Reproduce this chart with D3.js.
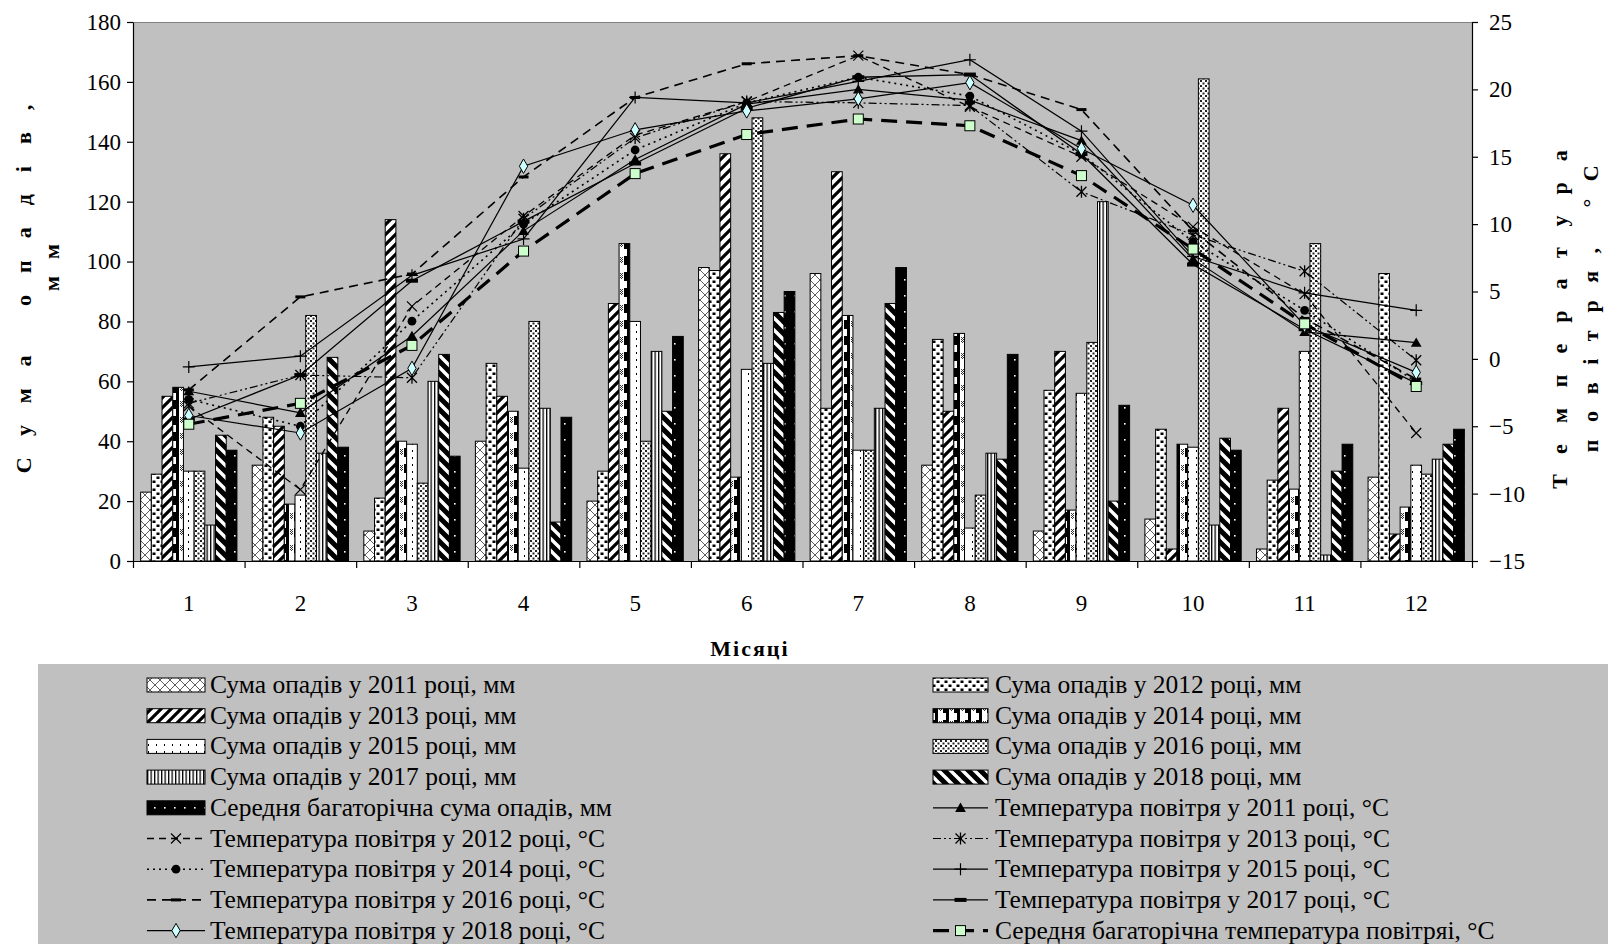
<!DOCTYPE html>
<html>
<head>
<meta charset="utf-8">
<script src="https://cdn.jsdelivr.net/npm/d3@7"></script>
<style>
  body { margin: 0; background: #fff; }
  text { font-family: "Liberation Serif", "Times New Roman", serif; fill: #000; }
</style>
</head>
<body>
<svg id="chart" width="1608" height="944"></svg>
<script>
// ---- data ----
const months = ["1","2","3","4","5","6","7","8","9","10","11","12"];

// monthly precipitation, mm
const precip2011 = [23, 32, 10, 40, 20, 98, 96, 32, 10, 14, 4, 28];
const precip2012 = [29, 48, 21, 66, 30, 97, 51, 74, 57, 44, 27, 96];
const precip2013 = [55, 45, 114, 55, 86, 136, 130, 50, 70, 4, 51, 9];
const precip2014 = [58, 19, 40, 50, 106, 28, 82, 76, 17, 39, 24, 18];
const precip2015 = [30, 22, 39, 31, 80, 64, 37, 11, 56, 38, 70, 32];
const precip2016 = [30, 82, 26, 80, 40, 148, 37, 22, 73, 161, 106, 29];
const precip2017 = [12, 36, 60, 51, 70, 66, 51, 36, 120, 12, 2, 34];
const precip2018 = [42, 68, 69, 13, 50, 83, 86, 34, 20, 41, 30, 39];
const precipNorm = [37, 38, 35, 48, 75, 90, 98, 69, 52, 37, 39, 44];

// monthly mean air temperature, °C
const temp2011 = [-2.4, -4.0, 1.7, 9.5, 14.8, 18.9, 20.0, 19.2, 16.2, 7.4, 2.0, 1.2];
const temp2012 = [-3.5, -9.7, 3.9, 10.6, 16.6, 19.1, 22.5, 18.7, 15.0, 9.8, 4.8, -5.5];
const temp2013 = [-3.3, -1.2, -1.4, 10.4, 16.4, 19.1, 19.0, 18.8, 12.4, 9.2, 6.5, -0.1];
const temp2014 = [-3.0, -5.0, 2.8, 10.0, 15.5, 19.0, 20.9, 19.5, 15.2, 8.7, 3.6, -1.7];
const temp2015 = [-0.6, 0.2, 6.2, 8.9, 19.4, 19.0, 20.6, 22.2, 16.9, 7.6, 4.9, 3.6];
const temp2016 = [-2.3, 4.6, 6.3, 13.5, 19.4, 21.9, 22.5, 21.1, 18.5, 9.5, 3.0, -1.5];
const temp2017 = [-4.5, -1.2, 5.8, 10.2, 14.5, 18.6, 20.9, 21.1, 15.2, 7.0, 2.2, -1.8];
const temp2018 = [-4.2, -5.5, -0.7, 14.3, 17.0, 18.4, 19.3, 20.5, 15.6, 11.4, 2.5, -1.0];
const tempNorm = [-4.85, -3.3, 1.0, 8.0, 13.75, 16.65, 17.8, 17.3, 13.6, 8.15, 2.6, -2.05];

const precipTicks = [0, 20, 40, 60, 80, 100, 120, 140, 160, 180];
const tempTicks = [-15, -10, -5, 0, 5, 10, 15, 20, 25];

const barSeries = [
  { key: "b2011", label: "Сума опадів у 2011 році, мм", values: precip2011, fill: "p2011" },
  { key: "b2012", label: "Сума опадів у 2012 році, мм", values: precip2012, fill: "p2012" },
  { key: "b2013", label: "Сума опадів у 2013 році, мм", values: precip2013, fill: "p2013" },
  { key: "b2014", label: "Сума опадів у 2014 році, мм", values: precip2014, fill: "p2014" },
  { key: "b2015", label: "Сума опадів у 2015 році, мм", values: precip2015, fill: "p2015" },
  { key: "b2016", label: "Сума опадів у 2016 році, мм", values: precip2016, fill: "p2016" },
  { key: "b2017", label: "Сума опадів у 2017 році, мм", values: precip2017, fill: "p2017" },
  { key: "b2018", label: "Сума опадів у 2018 році, мм", values: precip2018, fill: "p2018" },
  { key: "bNorm", label: "Середня багаторічна сума опадів, мм", values: precipNorm, fill: "pNorm" }
];

const lineSeries = [
  { key: "t2011", label: "Температура повітря у 2011 році, °C", values: temp2011, dash: null, width: 1.2, marker: "triangle" },
  { key: "t2012", label: "Температура повітря у 2012 році, °C", values: temp2012, dash: "7,5", width: 1.3, marker: "x" },
  { key: "t2013", label: "Температура повітря у 2013 році, °C", values: temp2013, dash: "8,3,2,3,2,3", width: 1.2, marker: "star" },
  { key: "t2014", label: "Температура повітря у 2014 році, °C", values: temp2014, dash: "2,4", width: 1.6, marker: "circle" },
  { key: "t2015", label: "Температура повітря у 2015 році, °C", values: temp2015, dash: null, width: 1.2, marker: "plus" },
  { key: "t2016", label: "Температура повітря у 2016 році, °C", values: temp2016, dash: "9,6", width: 1.6, marker: "dash" },
  { key: "t2017", label: "Температура повітря у 2017 році, °C", values: temp2017, dash: null, width: 1.3, marker: "bar" },
  { key: "t2018", label: "Температура повітря у 2018 році, °C", values: temp2018, dash: null, width: 1.2, marker: "diamond" },
  { key: "tNorm", label: "Середня багаторічна температура повітряі, °C", values: tempNorm, dash: "16,9", width: 3.2, marker: "square" }
];

// ---- layout ----
const W = 1608, H = 944;
const plot = { left: 133, right: 1472, top: 22, bottom: 561 };
const svg = d3.select("#chart");

svg.append("rect").attr("width", W).attr("height", H).attr("fill", "#fff");
svg.append("rect").attr("x", 38).attr("y", 664).attr("width", W - 38).attr("height", H - 664).attr("fill", "#c0c0c0");
svg.append("rect").attr("x", plot.left).attr("y", plot.top)
  .attr("width", plot.right - plot.left).attr("height", plot.bottom - plot.top)
  .attr("fill", "#c0c0c0");
svg.append("line").attr("x1", plot.left).attr("x2", plot.right).attr("y1", plot.top + 0.5).attr("y2", plot.top + 0.5)
  .attr("stroke", "#808080").attr("stroke-width", 1);

// ---- fill patterns ----
const defs = svg.append("defs");
function pattern(id, w, h, bg, build) {
  const p = defs.append("pattern").attr("id", id).attr("patternUnits", "userSpaceOnUse")
    .attr("width", w).attr("height", h);
  p.append("rect").attr("width", w).attr("height", h).attr("fill", bg);
  build(p);
}
pattern("p2011", 10, 10, "#fff", p => {
  p.append("path").attr("d", "M0,0L10,10M10,0L0,10M-1,9L1,11M9,-1L11,1").attr("stroke", "#333").attr("stroke-width", 0.8);
});
pattern("p2012", 8, 8, "#fff", p => {
  p.append("rect").attr("x", 0.5).attr("y", 0.5).attr("width", 3).attr("height", 2.5).attr("fill", "#000");
  p.append("rect").attr("x", 4.5).attr("y", 4.5).attr("width", 3).attr("height", 2.5).attr("fill", "#000");
});
pattern("p2013", 10, 10, "#fff", p => {
  p.append("path").attr("d", "M-2,2L2,-2M0,10L10,0M8,12L12,8").attr("stroke", "#000").attr("stroke-width", 3.2);
});
pattern("p2014", 11, 16, "#fff", p => {
  p.append("rect").attr("x", 0).attr("y", 0).attr("width", 3).attr("height", 16).attr("fill", "#000");
  p.append("rect").attr("x", 8).attr("y", 0).attr("width", 3).attr("height", 9).attr("fill", "#000");
  [[4,1],[6,1],[5,2],[4,3],[6,3],[5,4],[4,5],[6,5],[5,6]].forEach(([x, y]) =>
    p.append("rect").attr("x", x).attr("y", y).attr("width", 1).attr("height", 1).attr("fill", "#333"));
});
pattern("p2015", 8, 7, "#fff", p => {
  p.append("rect").attr("x", 4).attr("y", 2).attr("width", 1).attr("height", 2).attr("fill", "#000");
});
pattern("p2016", 5, 5, "#fff", p => {
  p.append("rect").attr("x", 0).attr("y", 0).attr("width", 2).attr("height", 2).attr("fill", "#222");
  p.append("rect").attr("x", 2.5).attr("y", 2.5).attr("width", 2).attr("height", 2).attr("fill", "#222");
});
pattern("p2017", 3.5, 4, "#fff", p => {
  p.append("rect").attr("x", 0).attr("y", 0).attr("width", 1.3).attr("height", 4).attr("fill", "#000");
});
pattern("p2018", 12, 12, "#000", p => {
  p.append("path").attr("d", "M-2,10L2,14M0,0L12,12M10,-2L14,2").attr("stroke", "#fff").attr("stroke-width", 3.4);
});
pattern("pNorm", 10, 16, "#000", p => {
  p.append("rect").attr("x", 4).attr("y", 7).attr("width", 1.6).attr("height", 1.6).attr("fill", "#fff");
});

// ---- scales ----
const x0 = d3.scaleBand().domain(months).range([plot.left, plot.right]).padding(0);
const gap = x0.bandwidth() * 0.137;
const x1 = d3.scaleBand().domain(barSeries.map(s => s.key)).range([gap / 2, x0.bandwidth() - gap / 2]).padding(0);
const yL = d3.scaleLinear().domain([0, 180]).range([plot.bottom, plot.top]);
const yR = d3.scaleLinear().domain([-15, 25]).range([plot.bottom, plot.top]);
const xEdge = d3.scaleLinear().domain([0, 12]).range([plot.left, plot.right]);

// ---- bars ----
const barG = svg.append("g");
barSeries.forEach(s => {
  barG.selectAll(null).data(s.values).join("rect")
    .attr("x", (d, i) => x0(months[i]) + x1(s.key))
    .attr("y", d => yL(d))
    .attr("width", x1.bandwidth())
    .attr("height", d => yL(0) - yL(d))
    .attr("fill", `url(#${s.fill})`)
    .attr("stroke", "#000").attr("stroke-width", 1);
});

// ---- markers ----
function drawMarker(g, type, cx, cy) {
  switch (type) {
    case "triangle":
      g.append("path").attr("d", d3.symbol(d3.symbolTriangle, 50)()).attr("transform", `translate(${cx},${cy + 1})`).attr("fill", "#000");
      break;
    case "x":
      g.append("path").attr("d", `M${cx-5},${cy-5}L${cx+5},${cy+5}M${cx+5},${cy-5}L${cx-5},${cy+5}`).attr("stroke", "#000").attr("stroke-width", 1.2);
      break;
    case "star":
      g.append("path").attr("d", `M${cx-5},${cy-5}L${cx+5},${cy+5}M${cx+5},${cy-5}L${cx-5},${cy+5}M${cx},${cy-6}L${cx},${cy+6}`).attr("stroke", "#000").attr("stroke-width", 1.3);
      break;
    case "circle":
      g.append("circle").attr("cx", cx).attr("cy", cy).attr("r", 4.4).attr("fill", "#000");
      break;
    case "plus":
      g.append("path").attr("d", `M${cx-6},${cy}L${cx+6},${cy}M${cx},${cy-6}L${cx},${cy+6}`).attr("stroke", "#000").attr("stroke-width", 1.2);
      break;
    case "dash":
      g.append("rect").attr("x", cx - 5).attr("y", cy - 1.5).attr("width", 10).attr("height", 3).attr("fill", "#000");
      break;
    case "bar":
      g.append("rect").attr("x", cx - 6).attr("y", cy - 2).attr("width", 12).attr("height", 4).attr("fill", "#000");
      break;
    case "diamond":
      g.append("path").attr("d", d3.symbol(d3.symbolDiamond, 60)()).attr("transform", `translate(${cx},${cy})`)
        .attr("fill", "#ccffff").attr("stroke", "#000").attr("stroke-width", 1);
      break;
    case "square":
      g.append("rect").attr("x", cx - 5).attr("y", cy - 5).attr("width", 10).attr("height", 10)
        .attr("fill", "#ccffcc").attr("stroke", "#000").attr("stroke-width", 1);
      break;
  }
}

// ---- temperature lines ----
const xc = m => x0(m) + x0.bandwidth() / 2;
const line = d3.line().x((d, i) => xc(months[i])).y(d => yR(d));
const lineG = svg.append("g");
lineSeries.forEach(s => {
  lineG.append("path").datum(s.values).attr("d", line)
    .attr("fill", "none").attr("stroke", "#000").attr("stroke-width", s.width)
    .attr("stroke-dasharray", s.dash);
  const mg = lineG.append("g");
  s.values.forEach((v, i) => drawMarker(mg, s.marker, xc(months[i]), yR(v)));
});

// ---- axes ----
function styleAxis(g, size) {
  g.selectAll("text").style("font-family", '"Liberation Serif", "Times New Roman", serif').style("font-size", size + "px").attr("fill", "#000");
  g.selectAll("line,path").attr("stroke", "#000").attr("stroke-width", 1.2);
}
svg.append("g").attr("transform", `translate(${plot.left},0)`)
  .call(d3.axisLeft(yL).tickValues(precipTicks).tickSize(6).tickPadding(6).tickSizeOuter(0))
  .call(g => styleAxis(g, 23));
svg.append("g").attr("transform", `translate(${plot.right},0)`)
  .call(d3.axisRight(yR).tickValues(tempTicks).tickSize(6).tickPadding(11).tickSizeOuter(0))
  .call(g => styleAxis(g, 23));
svg.append("g").attr("transform", `translate(0,${plot.bottom})`)
  .call(d3.axisBottom(xEdge).tickValues(d3.range(13)).tickFormat("").tickSize(7).tickSizeOuter(0))
  .call(g => styleAxis(g, 23));
svg.append("g").attr("transform", `translate(0,${plot.bottom})`)
  .call(d3.axisBottom(x0).tickSize(0).tickPadding(34))
  .call(g => g.select(".domain").remove())
  .call(g => styleAxis(g, 23));

// ---- axis titles ----
const titleFont = g => g.style("font-weight", "bold").style("font-size", "22px");
svg.append("text").attr("x", 750).attr("y", 656).attr("text-anchor", "middle")
  .style("letter-spacing", "2px").call(titleFont).text("Місяці");
svg.append("text").attr("transform", "translate(31,278) rotate(-90)").attr("text-anchor", "middle")
  .style("letter-spacing", "22px").call(titleFont).text("Сума опадів,");
svg.append("text").attr("transform", "translate(59,259) rotate(-90)").attr("text-anchor", "middle")
  .style("letter-spacing", "17px").call(titleFont).text("мм");
svg.append("text").attr("transform", "translate(1567,309) rotate(-90)").attr("text-anchor", "middle")
  .style("letter-spacing", "21px").call(titleFont).text("Температура");
svg.append("text").attr("transform", "translate(1598,300) rotate(-90)").attr("text-anchor", "middle")
  .style("letter-spacing", "17.5px").call(titleFont).text("повітря, °С");

// ---- legend ----
const legendItems = [...barSeries.map(s => ({ ...s, kind: "bar" })), ...lineSeries.map(s => ({ ...s, kind: "line" }))];
const cols = [
  { sx: 147, sw: 58, tx: 210 },
  { sx: 933, sw: 55, tx: 995 }
];
const legend = svg.append("g");
legendItems.forEach((it, i) => {
  const col = cols[i % 2];
  const row = Math.floor(i / 2);
  const cy = 685 + row * 30.7;
  if (it.kind === "bar") {
    legend.append("rect").attr("x", col.sx).attr("y", cy - 7).attr("width", col.sw).attr("height", 14)
      .attr("fill", `url(#${it.fill})`).attr("stroke", "#000").attr("stroke-width", 1);
  } else {
    legend.append("line").attr("x1", col.sx).attr("x2", col.sx + col.sw).attr("y1", cy).attr("y2", cy)
      .attr("stroke", "#000").attr("stroke-width", it.width).attr("stroke-dasharray", it.dash);
    drawMarker(legend, it.marker, col.sx + col.sw / 2, cy);
  }
  legend.append("text").attr("x", col.tx).attr("y", cy + 8).style("font-size", "25.5px").text(it.label);
});
</script>
</body>
</html>
